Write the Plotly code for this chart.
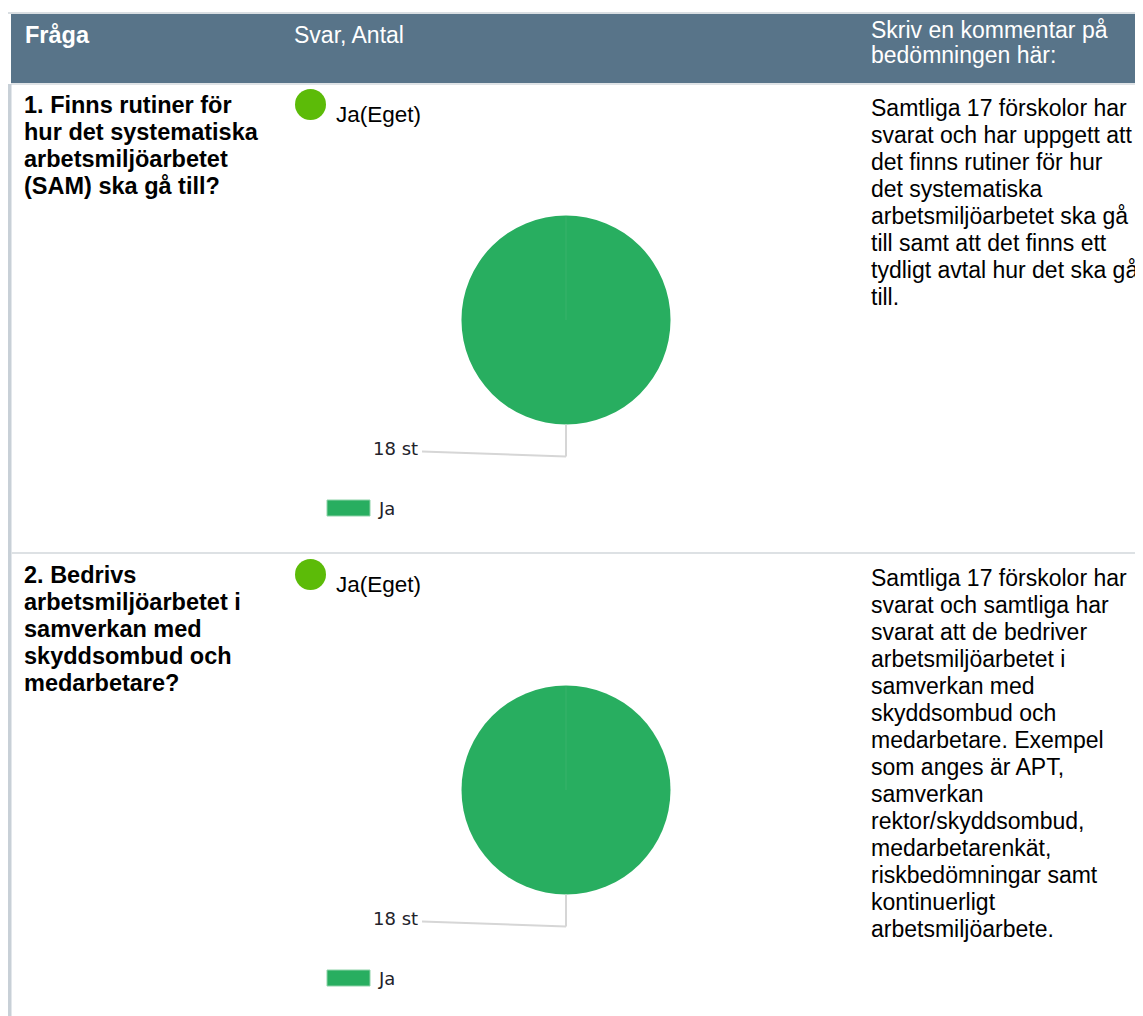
import plotly.graph_objects as go

# ---------------- data ----------------
header_labels = ["Fråga", "Svar, Antal"]
header_comment_lines = ["Skriv en kommentar på", "bedömningen här:"]

question_lines = [
    ["1. Finns rutiner för", "hur det systematiska", "arbetsmiljöarbetet", "(SAM) ska gå till?"],
    ["2. Bedrivs", "arbetsmiljöarbetet i", "samverkan med", "skyddsombud och", "medarbetare?"],
]
comment_lines = [
    ["Samtliga 17 förskolor har", "svarat och har uppgett att", "det finns rutiner för hur",
     "det systematiska", "arbetsmiljöarbetet ska gå", "till samt att det finns ett",
     "tydligt avtal hur det ska gå", "till."],
    ["Samtliga 17 förskolor har", "svarat och samtliga har", "svarat att de bedriver",
     "arbetsmiljöarbetet i", "samverkan med", "skyddsombud och", "medarbetare. Exempel",
     "som anges är APT,", "samverkan", "rektor/skyddsombud,", "medarbetarenkät,",
     "riskbedömningar samt", "kontinuerligt", "arbetsmiljöarbete."],
]
own_answers = ["Ja(Eget)", "Ja(Eget)"]
answer_labels = ["Ja"]
answer_counts = [[18], [18]]
answer_colors = ["#28ae60"]
unit = "st"

# ---------------- layout helpers ----------------
W, H = 1143, 1016
PAGE_MARGIN = 8  # browser default body margin
def X(px): return (px - PAGE_MARGIN) / W
def Y(py): return 1 - (py - PAGE_MARGIN) / H

ROW_OFFSET = 470
LINE_H = 27
FONT = "Liberation Sans, Arial, sans-serif"
LABEL_FONT = "DejaVu Sans, Tahoma, sans-serif"

fig = go.Figure()
shapes = []
annotations = []

def rect(x0, x1, y0, y1, color, layer="below"):
    shapes.append(dict(type="rect", xref="paper", yref="paper", x0=X(x0), x1=X(x1),
                       y0=Y(y1), y1=Y(y0), fillcolor=color, line=dict(width=0), layer=layer))

# header band
rect(7, W + 20, 12, 14, "#d9dee2")
rect(11, W + 20, 14, 83, "#587489")
rect(11, W + 20, 83, 85, "#dfe3e6")
# left strip
rect(7, 11.5, 84, H + 20, "#c8d0d7")
# row separator
rect(11.5, W + 20, 552, 554, "#dde1e4")

# header texts
annotations.append(dict(text="<b>" + header_labels[0] + "</b>", x=X(22.5), y=Y(35), xref="paper", yref="paper",
                        xanchor="left", yanchor="middle", showarrow=False,
                        font=dict(family=FONT, size=23.5, color="white")))
annotations.append(dict(text=header_labels[1], x=X(292), y=Y(35), xref="paper", yref="paper",
                        xanchor="left", yanchor="middle", showarrow=False,
                        font=dict(family=FONT, size=23, color="white")))
for i, line in enumerate(header_comment_lines):
    annotations.append(dict(text=line, x=X(869), y=Y(30 + 25 * i), xref="paper", yref="paper",
                            xanchor="left", yanchor="middle", showarrow=False,
                            font=dict(family=FONT, size=23, color="white")))

for r in range(len(question_lines)):
    off = r * ROW_OFFSET
    # question text
    for i, line in enumerate(question_lines[r]):
        annotations.append(dict(text="<b>" + line + "</b>", x=X(22), y=Y(105 + off + LINE_H * i),
                                xref="paper", yref="paper", xanchor="left", yanchor="middle",
                                showarrow=False, font=dict(family=FONT, size=23.5, color="black")))
    # comment text
    for i, line in enumerate(comment_lines[r]):
        annotations.append(dict(text=line, x=X(869), y=Y(108 + off + LINE_H * i),
                                xref="paper", yref="paper", xanchor="left", yanchor="middle",
                                showarrow=False, font=dict(family=FONT, size=23, color="black")))
    # own answer marker
    shapes.append(dict(type="circle", xref="paper", yref="paper",
                       x0=X(295), x1=X(326), y0=Y(120 + off), y1=Y(89 + off),
                       fillcolor="#5cbb08", line=dict(width=0)))
    annotations.append(dict(text=own_answers[r], x=X(334), y=Y(114.5 + off), xref="paper", yref="paper",
                            xanchor="left", yanchor="middle", showarrow=False,
                            font=dict(family=FONT, size=22.5, color="black")))
    # pie
    cx, cy, rad = 566, 320 + off, 104.5
    fig.add_trace(go.Pie(labels=answer_labels, values=answer_counts[r],
                         marker=dict(colors=answer_colors, line=dict(width=0)),
                         textinfo="none", sort=False, direction="clockwise", showlegend=False,
                         domain=dict(x=[X(cx - rad), X(cx + rad)], y=[Y(cy + rad), Y(cy - rad)]),
                         hoverinfo="label+value"))
    # slice seam
    shapes.append(dict(type="line", xref="paper", yref="paper", x0=X(cx), x1=X(cx),
                       y0=Y(cy - rad + 1), y1=Y(cy), line=dict(color="#38b26a", width=1)))
    # leader line
    shapes.append(dict(type="line", xref="paper", yref="paper", x0=X(cx), x1=X(cx),
                       y0=Y(cy + rad), y1=Y(cy + rad + 32), line=dict(color="#d6d6d6", width=2)))
    shapes.append(dict(type="line", xref="paper", yref="paper", x0=X(cx), x1=X(422),
                       y0=Y(cy + rad + 32), y1=Y(cy + rad + 27), line=dict(color="#d6d6d6", width=2)))
    annotations.append(dict(text=f"{answer_counts[r][0]} {unit}", x=X(420), y=Y(448.5 + off),
                            xref="paper", yref="paper", xanchor="right", yanchor="middle",
                            showarrow=False, font=dict(family=LABEL_FONT, size=18, color="#22222a")))
    # legend swatch
    shapes.append(dict(type="rect", xref="paper", yref="paper", x0=X(327), x1=X(370),
                       y0=Y(516 + off), y1=Y(500 + off), fillcolor=answer_colors[0],
                       line=dict(width=1, color="#8fd3a9")))
    annotations.append(dict(text=answer_labels[0], x=X(376), y=Y(508 + off), xref="paper", yref="paper",
                            xanchor="left", yanchor="middle", showarrow=False,
                            font=dict(family=LABEL_FONT, size=18, color="#22222a")))

fig.update_layout(width=W, height=H, margin=dict(l=0, r=0, t=0, b=0),
                  paper_bgcolor="white", plot_bgcolor="white",
                  shapes=shapes, annotations=annotations,
                  xaxis=dict(visible=False), yaxis=dict(visible=False))
fig.write_html("out.html")
